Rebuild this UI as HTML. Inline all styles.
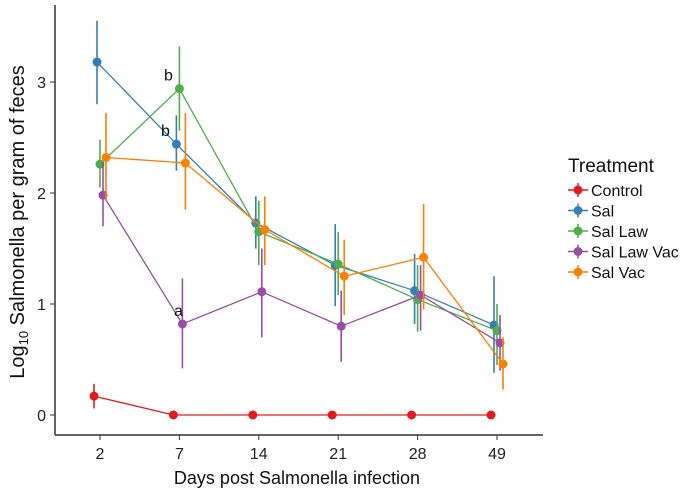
<!DOCTYPE html>
<html><head><meta charset="utf-8"><style>
body{margin:0;background:#fff;font-family:"Liberation Sans",sans-serif}
svg text{font-family:"Liberation Sans",sans-serif}
</style></head><body>
<svg id="chart" width="685" height="492">
<g id="axes"></g><g id="marks"></g><g id="legend"></g>
</svg>
<script>
const categories=["2","7","14","21","28","49"];
const seriesNames=["Control","Sal","Sal Law","Sal Law Vac","Sal Vac"];
const colors=["#E41A1C","#377EB8","#4DAF4A","#984EA3","#FF7F00"];
const control=[0.17,0,0,0,0,0];
const controlLo=[0.06,0,0,0,0,0];
const controlHi=[0.28,0,0,0,0,0];
const sal=[3.18,2.44,1.73,1.35,1.12,0.81];
const salLo=[2.8,2.2,1.5,0.98,0.82,0.38];
const salHi=[3.55,2.7,1.97,1.72,1.45,1.25];
const salLaw=[2.26,2.94,1.65,1.36,1.04,0.76];
const salLawLo=[2.05,2.56,1.35,1.08,0.75,0.45];
const salLawHi=[2.48,3.32,1.93,1.65,1.35,1.0];
const salLawVac=[1.98,0.82,1.11,0.80,1.08,0.65];
const salLawVacLo=[1.7,0.42,0.7,0.48,0.76,0.4];
const salLawVacHi=[2.28,1.23,1.5,1.12,1.35,0.9];
const salVac=[2.32,2.27,1.67,1.25,1.42,0.46];
const salVacLo=[1.93,1.85,1.35,0.9,0.95,0.23];
const salVacHi=[2.72,2.72,1.97,1.58,1.9,0.7];
const yTicks=[0,1,2,3];
const annotations=[{t:"b",s:2,i:1},{t:"b",s:1,i:1},{t:"a",s:3,i:1}];

const NS="http://www.w3.org/2000/svg";
const x=i=>100+i*79.4;
const y=v=>415-v*111;
const offs=[-6,-3,0,3,6];
function mk(tag,attrs,parent,txt){const e=document.createElementNS(NS,tag);for(const k in attrs)e.setAttribute(k,attrs[k]);if(txt!==undefined)e.textContent=txt;parent.appendChild(e);return e;}
const axes=document.getElementById('axes'),marks=document.getElementById('marks'),legend=document.getElementById('legend');
let e=mk('line',{x1:55,y1:5,x2:55,y2:435,stroke:'#333','stroke-width':1.5},axes);

e=mk('line',{x1:55,y1:435,x2:543,y2:435,stroke:'#333','stroke-width':1.5},axes);

yTicks.forEach(t=>{
 mk('line',{x1:50,x2:55,y1:y(t),y2:y(t),stroke:'#333'},axes);
 e=mk('text',{x:46,y:y(t)+6,'text-anchor':'end','font-size':16,fill:'#222'},axes,t);
 
});
categories.forEach((c,i)=>{
 mk('line',{x1:x(i),x2:x(i),y1:435,y2:440,stroke:'#333'},axes);
 e=mk('text',{x:x(i),y:459,'text-anchor':'middle','font-size':16,fill:'#222'},axes,c);
 
});
e=mk('text',{x:297,y:484,'text-anchor':'middle','font-size':18,fill:'#111'},axes,'Days post Salmonella infection');

e=mk('text',{transform:'translate(24,222) rotate(-90)','text-anchor':'middle','font-size':20,fill:'#111'},axes);
e.innerHTML='Log<tspan font-size="13" dy="4">10</tspan><tspan dy="-4"> Salmonella per gram of feces</tspan>';


const vals=[control,sal,salLaw,salLawVac,salVac];
const los=[controlLo,salLo,salLawLo,salLawVacLo,salVacLo];
const his=[controlHi,salHi,salLawHi,salLawVacHi,salVacHi];
vals.forEach((vs,s)=>{
 const g=mk('g',{},marks);
 
 
 const pts=vs.map((v,i)=>(x(i)+offs[s])+','+y(v)).join(' ');
 mk('polyline',{points:pts,fill:'none',stroke:colors[s],'stroke-width':1.3},g);
 vs.forEach((v,i)=>{
  const px=x(i)+offs[s];
  if(his[s][i]>los[s][i]){const el=mk('line',{x1:px,x2:px,y1:y(los[s][i]),y2:y(his[s][i]),stroke:colors[s],'stroke-width':1.6},g);
   }
  const c=mk('circle',{cx:px,cy:y(v),r:4.5,fill:colors[s]},g);
  
  
 });
});
annotations.forEach(a=>{
 const v=vals[a.s][a.i];
 const dx=a.t==='a'?-4:-11;
 const el=mk('text',{x:x(a.i)+offs[a.s]+dx,y:y(v)-8,'text-anchor':'middle','font-size':16,fill:'#111'},marks,a.t);
 
});
e=mk('text',{x:568,y:172,'font-size':19,fill:'#111'},legend,'Treatment');

seriesNames.forEach((n,s)=>{
 const ly=190+s*20.5;
 const g=mk('g',{},legend);
 
 
 mk('line',{x1:568,x2:588,y1:ly,y2:ly,stroke:colors[s],'stroke-width':1.5},g);
 mk('line',{x1:578,x2:578,y1:ly-7,y2:ly+7,stroke:colors[s],'stroke-width':1.5},g);
 mk('circle',{cx:578,cy:ly,r:4.5,fill:colors[s]},g);
 mk('text',{x:591,y:ly+6,'font-size':16,fill:'#111'},g,n);
});
</script>
</body></html>
